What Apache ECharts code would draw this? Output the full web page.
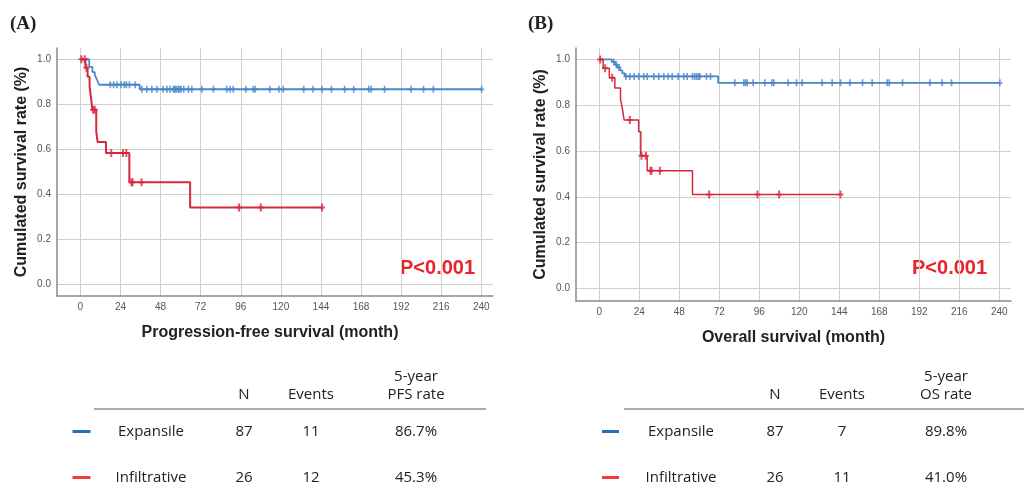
<!DOCTYPE html>
<html>
<head>
<meta charset="utf-8">
<script src="https://cdn.jsdelivr.net/npm/echarts@6/dist/echarts.min.js"></script>
<style>
html,body{margin:0;padding:0;background:#fff;}
#chart{width:1024px;height:485px;}
</style>
</head>
<body>
<div id="chart"></div>
<script>
// ---------- DATA ----------
const xTicks = [0, 24, 48, 72, 96, 120, 144, 168, 192, 216, 240];
const yTicks = [0, 0.2, 0.4, 0.6, 0.8, 1.0];

// Progression-free survival (panel A): [month, survival]
const pfsExpansileSteps = [[0,1],[5.3,0.966],[7.2,0.943],[8.6,0.931],[9.3,0.92],[10,0.908],[10.6,0.897],[11.2,0.887],[35.5,0.867]];
const pfsExpansileEnd = 240.2;
const pfsExpansileCensor = [17.9,19.9,21.9,24.3,26.3,27.5,29.4,32.8,36.8,39.8,42.8,45.8,49.4,51.8,53.7,55.7,56.5,57.3,58.5,59.4,60.2,61.9,64.7,66.7,72.7,79.6,87.6,89.6,91.5,99.1,103.5,104.7,113.4,118.8,121.4,133.7,139.3,144.7,150.3,158.2,163.6,172.7,174.1,182.1,198.0,205.4,211.3,240.2];

const pfsInfiltrativeSteps = [[0,1],[3,0.962],[4.3,0.923],[5.5,0.88],[6.5,0.82],[7.2,0.776],[9.5,0.68],[10.3,0.633],[15.3,0.584],[29.3,0.455],[65.7,0.342]];
const pfsInfiltrativeEnd = 144.7;
const pfsInfiltrativeCensor = [0.6,2.6,3.6,7.6,8.6,18.5,25.5,27.5,30.6,31.2,36.6,95,108,144.7];

// Overall survival (panel B)
const osExpansileSteps = [[0,1],[7.5,0.989],[9.3,0.977],[10.8,0.965],[12.3,0.952],[13.8,0.939],[15.3,0.926],[71.3,0.898]];
const osExpansileEnd = 240.3;
const osExpansileCensor = [8.7,10.2,11.8,15.9,18.3,20.9,23.7,26.7,28.7,32.7,35.7,38.7,41.3,43.7,47.3,50.7,52.7,55.9,57.3,58.5,59.7,60.3,64.3,66.7,81.3,86.7,87.7,88.7,92.3,99.3,103.5,104.7,113.3,118.3,121.7,133.7,139.7,144.7,150.3,157.9,163.7,172.7,173.9,181.9,198.3,205.7,211.3,240.3];

const osInfiltrativeSteps = [[0,1],[2.3,0.962],[6,0.92],[9.3,0.875],[12.7,0.827],[13.9,0.782],[14.9,0.735],[23.6,0.684],[24.9,0.579],[28.7,0.514],[55.9,0.41]];
const osInfiltrativeEnd = 144.7;
const osInfiltrativeCensor = [0.5,3.5,7.7,18.3,25.3,27.9,30.7,31.3,36.3,65.9,94.9,107.9,144.7];

// Tables
const groupNames = ['Expansile', 'Infiltrative'];
const pfsHeaders = ['N', 'Events', '5-year\nPFS rate'];
const osHeaders = ['N', 'Events', '5-year\nOS rate'];
const pfsN = [87, 26];
const pfsEvents = [11, 12];
const pfsRate = ['86.7%', '45.3%'];
const osN = [87, 26];
const osEvents = [7, 11];
const osRate = ['89.8%', '41.0%'];
const pValueA = 'P<0.001';
const pValueB = 'P<0.001';

// ---------- HELPERS ----------
const BLUE = '#4a86c8';
const RED = '#d6283c';
const LEG_BLUE = '#2b6cb8';
const LEG_RED = '#f2393b';

function survAt(steps, t) {
  let s = steps[0][1];
  for (const p of steps) { if (p[0] <= t) s = p[1]; }
  return s;
}
function lineData(steps, end) {
  return steps.map(p => [p[0], p[1]]).concat([[end, steps[steps.length - 1][1]]]);
}
function censorData(steps, times) {
  return times.map(t => [t, survAt(steps, t)]);
}
const PLUS = 'path://M-1,-4L1,-4L1,-1L3,-1L3,1L1,1L1,4L-1,4L-1,1L-3,1L-3,-1L-1,-1Z';

function makeX(gi, name, pad) {
  return {
    type: 'value', gridIndex: gi, min: -14, max: 247,
    name: name, nameLocation: 'middle', nameGap: 29,
    nameTextStyle: { fontFamily: 'Arial', fontWeight: 'bold', fontSize: 16, color: '#222', padding: pad },
    axisLine: { show: true, onZero: false, lineStyle: { color: '#8a8a8a', width: 1.5 } },
    axisTick: { show: false, customValues: xTicks },
    axisLabel: { customValues: xTicks, color: '#555', fontSize: 10, fontFamily: 'Arial', margin: 6 },
    splitLine: { show: true, lineStyle: { color: '#cfcfcf', width: 1 } }
  };
}
function makeY(gi, min) {
  return {
    type: 'value', gridIndex: gi, min: min, max: 1.05,
    name: 'Cumulated survival rate (%)', nameLocation: 'middle', nameGap: 27,
    nameTextStyle: { fontFamily: 'Arial', fontWeight: 'bold', fontSize: 16, color: '#222' },
    axisLine: { show: true, onZero: false, lineStyle: { color: '#8a8a8a', width: 1.5 } },
    axisTick: { show: false, customValues: yTicks },
    axisLabel: { customValues: yTicks, color: '#555', fontSize: 10, fontFamily: 'Arial', margin: 6,
      formatter: v => Number(v).toFixed(1) },
    splitLine: { show: true, lineStyle: { color: '#cfcfcf', width: 1 } }
  };
}
function kmLine(gi, steps, end, color, w, z) {
  return { type: 'line', xAxisIndex: gi, yAxisIndex: gi, step: 'end', showSymbol: false,
    data: lineData(steps, end), lineStyle: { color: color, width: w }, itemStyle: { color: color }, z: z, silent: true };
}
function kmCensor(gi, steps, times, color, size, z) {
  return { type: 'scatter', xAxisIndex: gi, yAxisIndex: gi, symbol: PLUS, symbolSize: size,
    data: censorData(steps, times), itemStyle: { color: color }, z: z, silent: true };
}

// ---------- GRAPHICS (labels & tables) ----------
const TFONT = '15px "Open Sans", "Noto Sans", sans-serif';
function txt(x, y, text, font, fill, align) {
  return { type: 'text', x: x, y: y, silent: true,
    style: { text: String(text), font: font, fill: fill || '#222', align: align || 'center', verticalAlign: 'middle', lineHeight: 18 } };
}
function hline(x1, x2, y, color, w) {
  return { type: 'line', silent: true, shape: { x1: x1, y1: y, x2: x2, y2: y }, style: { stroke: color, lineWidth: w } };
}
function table(cfg, headers, nArr, evArr, rateArr) {
  const g = [];
  g.push(txt(cfg.cN, 395, headers[0], TFONT));
  g.push(txt(cfg.cE, 395, headers[1], TFONT));
  g.push(txt(cfg.cR, 386, headers[2], TFONT));
  g.push(hline(cfg.l1, cfg.l2, 409, '#8f8f8f', 1.5));
  const rows = [431.5, 477.5];
  const cols = [LEG_BLUE, LEG_RED];
  for (let i = 0; i < groupNames.length; i++) {
    g.push(hline(cfg.g1, cfg.g2, rows[i], cols[i], 3));
    g.push(txt(cfg.cName, rows[i], groupNames[i], TFONT));
    g.push(txt(cfg.cN, rows[i], nArr[i], TFONT));
    g.push(txt(cfg.cE, rows[i], evArr[i], TFONT));
    g.push(txt(cfg.cR, rows[i], rateArr[i], TFONT));
  }
  return g;
}

const graphics = [].concat(
  [txt(10, 24, '(A)', 'bold 19px "Liberation Serif", "Times New Roman", serif', '#222', 'left'),
   txt(528, 24, '(B)', 'bold 19px "Liberation Serif", "Times New Roman", serif', '#222', 'left'),
   txt(400, 268, pValueA, 'bold 20px Arial, "Liberation Sans", sans-serif', '#e8232a', 'left'),
   txt(912, 268, pValueB, 'bold 20px Arial, "Liberation Sans", sans-serif', '#e8232a', 'left')],
  table({ cN: 244, cE: 311, cR: 416, cName: 151, l1: 94, l2: 486, g1: 72.5, g2: 90.5 }, pfsHeaders, pfsN, pfsEvents, pfsRate),
  table({ cN: 775, cE: 842, cR: 946, cName: 681, l1: 624, l2: 1024, g1: 602, g2: 619 }, osHeaders, osN, osEvents, osRate)
);

// ---------- CHART ----------
const chart = echarts.init(document.getElementById('chart'), null, { renderer: 'canvas' });
chart.setOption({
  animation: false,
  backgroundColor: '#fff',
  grid: [
    { left: 57, top: 48, width: 436, height: 248 },
    { left: 576, top: 48, width: 435, height: 253 }
  ],
  xAxis: [makeX(0, 'Progression-free survival (month)', [0, 10, 0, 0]), makeX(1, 'Overall survival (month)', [0, 0, 0, 0])],
  yAxis: [makeY(0, -0.05), makeY(1, -0.055)],
  series: [
    kmLine(0, pfsExpansileSteps, pfsExpansileEnd, BLUE, 1.8, 3),
    kmCensor(0, pfsExpansileSteps, pfsExpansileCensor, BLUE, [5, 7], 4),
    kmLine(0, pfsInfiltrativeSteps, pfsInfiltrativeEnd, RED, 2, 5),
    kmCensor(0, pfsInfiltrativeSteps, pfsInfiltrativeCensor, RED, [6, 8], 6),
    kmLine(1, osExpansileSteps, osExpansileEnd, BLUE, 1.8, 3),
    kmCensor(1, osExpansileSteps, osExpansileCensor, BLUE, [5, 7], 4),
    kmLine(1, osInfiltrativeSteps, osInfiltrativeEnd, RED, 1.5, 5),
    kmCensor(1, osInfiltrativeSteps, osInfiltrativeCensor, RED, [6, 8], 6)
  ],
  graphic: graphics
});
</script>
</body>
</html>
